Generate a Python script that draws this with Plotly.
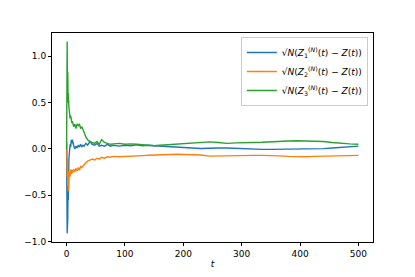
import plotly.graph_objects as go

t = [0, 0.5, 1, 1.5, 2, 2.5, 3, 4, 5, 6, 7, 8, 9, 10, 12, 14, 16, 18, 20, 22, 24, 26, 28, 30,
     33, 36, 40, 44, 48, 52, 56, 60, 65, 70, 75, 80, 90, 100, 110, 120, 130, 140, 150, 160,
     170, 180, 190, 200, 215, 230, 245, 260, 275, 290, 305, 320, 335, 350, 365, 380, 395,
     410, 425, 440, 455, 470, 485, 500]

z1 = [0, -0.3, -0.91, -0.6, -0.75, -0.4, -0.55, -0.1, 0.0, 0.05, 0.02, 0.1, 0.06, 0.1, 0.04,
      0.0, 0.03, 0.01, 0.04, 0.02, 0.05, 0.02, 0.04, 0.03, 0.06, 0.04, 0.08, 0.05, 0.04, 0.06,
      0.03, 0.04, 0.03, 0.05, 0.03, 0.04, 0.03, 0.04, 0.035, 0.045, 0.035, 0.04, 0.035, 0.03,
      0.025, 0.02, 0.02, 0.015, 0.01, 0.005, 0.01, 0.01, 0.01, 0.005, 0.0, -0.005, -0.005,
      -0.005, -0.005, -0.005, -0.005, -0.003, 0.0, 0.003, 0.01, 0.015, 0.022, 0.03]

z2 = [0, 0.07, -0.3, -0.1, -0.35, -0.25, -0.46, -0.3, -0.25, -0.3, -0.22, -0.27, -0.23, -0.26,
      -0.22, -0.25, -0.21, -0.24, -0.2, -0.23, -0.19, -0.2, -0.18, -0.17, -0.15, -0.13, -0.12,
      -0.11, -0.12, -0.1, -0.11, -0.09, -0.1, -0.085, -0.09, -0.08, -0.085, -0.08, -0.075,
      -0.07, -0.072, -0.068, -0.065, -0.06, -0.058, -0.06, -0.058, -0.06, -0.062, -0.065,
      -0.078, -0.075, -0.075, -0.075, -0.072, -0.07, -0.07, -0.07, -0.075, -0.08, -0.085,
      -0.085, -0.08, -0.078, -0.075, -0.072, -0.07, -0.07]

z3 = [0, 0.6, 1.16, 0.5, 0.83, 0.55, 0.6, 0.45, 0.38, 0.33, 0.36, 0.3, 0.28, 0.3, 0.24, 0.27,
      0.22, 0.27, 0.25, 0.27, 0.22, 0.24, 0.2, 0.18, 0.13, 0.1, 0.08, 0.07, 0.06, 0.08, 0.05,
      0.1, 0.07, 0.06, 0.05, 0.055, 0.06, 0.05, 0.055, 0.05, 0.045, 0.04, 0.035, 0.04, 0.045,
      0.05, 0.05, 0.055, 0.06, 0.07, 0.076, 0.07, 0.06, 0.065, 0.07, 0.07, 0.072, 0.078, 0.083,
      0.085, 0.088, 0.088, 0.085, 0.08, 0.07, 0.06, 0.055, 0.05]

names = [
    "√<i>N</i>(<i>Z</i><sub>1</sub><sup>(<i>N</i>)</sup>(<i>t</i>) − <i>Z</i>(<i>t</i>))",
    "√<i>N</i>(<i>Z</i><sub>2</sub><sup>(<i>N</i>)</sup>(<i>t</i>) − <i>Z</i>(<i>t</i>))",
    "√<i>N</i>(<i>Z</i><sub>3</sub><sup>(<i>N</i>)</sup>(<i>t</i>) − <i>Z</i>(<i>t</i>))",
]
colors = ["#1f77b4", "#ff7f0e", "#2ca02c"]

fig = go.Figure()
for ys, nm, c in zip([z1, z2, z3], names, colors):
    fig.add_trace(go.Scatter(x=t, y=ys, mode="lines", name=nm,
                             line=dict(color=c, width=1.4)))

axis_common = dict(showline=True, linecolor="black", linewidth=1, mirror=True,
                   ticks="outside", ticklen=3, tickcolor="black", showgrid=False,
                   zeroline=False, automargin=False,
                   tickfont=dict(family="DejaVu Sans", size=9, color="black"))

fig.update_layout(
    width=415, height=277,
    margin=dict(l=52, r=42, t=33, b=35),
    paper_bgcolor="white", plot_bgcolor="white",
    font=dict(family="DejaVu Sans", size=9, color="black"),
    xaxis=dict(range=[-25, 525], tickvals=[0, 100, 200, 300, 400, 500],
               title=dict(text="<i>t</i>", standoff=2, font=dict(size=9)), **axis_common),
    yaxis=dict(range=[-1.005, 1.252], tickvals=[-1.0, -0.5, 0.0, 0.5, 1.0],
               tickformat=".1f", **axis_common),
    legend=dict(x=0.984, y=0.981, xanchor="right", yanchor="top",
                bordercolor="#cccccc", borderwidth=1, bgcolor="rgba(255,255,255,0.8)",
                font=dict(family="DejaVu Sans", size=9), itemwidth=30,
                tracegroupgap=0),
    showlegend=True,
)

fig.write_html("out.html", config={"displayModeBar": False},
               post_script="document.body.style.margin='0';document.body.style.padding='0';")
